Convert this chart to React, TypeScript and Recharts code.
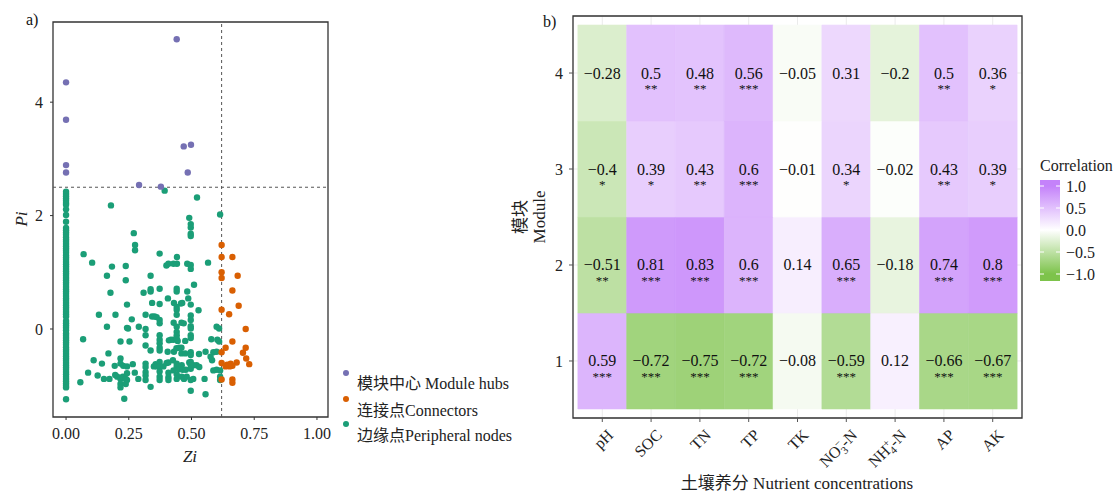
import React from "react";
import {
  ScatterChart,
  Scatter,
  XAxis,
  YAxis,
  ReferenceLine,
  ReferenceArea,
  CartesianGrid,
} from "recharts";

const SERIF = '"Liberation Serif", "Noto Sans CJK SC", serif';

// ---- panel a: Zi-Pi plot ----
const hubs = [
  [0.441, 5.11], [0, 4.35], [0, 3.69], [0, 2.89], [0, 2.76],
  [0.469, 3.22], [0.498, 3.25], [0.485, 2.76], [0.291, 2.54], [0.378, 2.51],
];

const connectors = [
  [0.62, 1.48], [0.62, 1.27], [0.663, 1.27], [0.62, 1.0], [0.62, 0.9],
  [0.684, 0.94], [0.663, 0.68], [0.688, 0.41], [0.62, 0.34], [0.65, 0.26],
  [0.716, 0.0], [0.663, -0.22], [0.636, -0.33], [0.716, -0.33], [0.62, -0.41],
  [0.705, -0.42], [0.718, -0.52], [0.73, -0.62], [0.68, -0.59], [0.62, -0.6],
  [0.642, -0.63], [0.656, -0.61], [0.663, -0.65], [0.652, -0.66], [0.636, -0.66],
  [0.62, -0.89], [0.663, -0.89], [0.663, -0.95],
];

// peripheral nodes with Zi = 0 (the dense column)
const peripheralZeroPi = [
  2.42, 2.38, 2.34, 2.3, 2.26, 2.22, 2.19, 2.11, 2.01, 1.89, 1.78, 1.74, 1.7,
  1.66, 1.62, 1.58, 1.54, 1.5, 1.46, 1.42, 1.38, 1.34, 1.3, 1.26, 1.22, 1.18,
  1.14, 1.1, 1.06, 1.02, 0.98, 0.94, 0.9, 0.86, 0.82, 0.78, 0.74, 0.7, 0.66,
  0.62, 0.58, 0.54, 0.5, 0.46, 0.42, 0.38, 0.34, 0.3, 0.26, 0.22, 0.14, 0.1,
  0.06, 0.02, -0.02, -0.08, -0.12, -0.16, -0.2, -0.24, -0.28, -0.32, -0.36,
  -0.4, -0.44, -0.48, -0.52, -0.56, -0.6, -0.64, -0.68, -0.72, -0.76, -0.8,
  -0.84, -0.88, -0.92, -0.96, -1.0, -1.03, -1.24,
];

const peripheral = [
  [0.393, 2.44], [0.522, 2.32], [0.179, 2.18], [0.614, 2.02], [0.491, 1.96],
  [0.497, 1.85], [0.497, 1.79], [0.497, 1.68], [0.497, 1.64], [0.27, 1.69],
  [0.275, 1.48], [0.275, 1.39], [0.07, 1.32], [0.373, 1.33], [0.442, 1.27],
  [0.104, 1.17], [0.566, 1.17], [0.4, 1.12], [0.408, 1.15], [0.428, 1.15],
  [0.442, 1.15], [0.483, 1.15], [0.497, 1.13], [0.497, 1.06], [0.183, 1.1],
  [0.238, 1.11], [0.163, 0.94], [0.337, 0.94], [0.238, 0.86], [0.51, 0.78],
  [0.337, 0.7], [0.337, 0.66], [0.373, 0.71], [0.441, 0.71], [0.441, 0.66],
  [0.483, 0.66], [0.309, 0.64], [0.177, 0.64], [0.406, 0.54], [0.487, 0.54],
  [0.343, 0.46], [0.373, 0.44], [0.43, 0.46], [0.458, 0.45], [0.463, 0.46],
  [0.497, 0.43], [0.243, 0.43], [0.441, 0.39], [0.441, 0.34], [0.441, 0.25],
  [0.528, 0.33], [0.131, 0.25], [0.197, 0.25], [0.317, 0.25], [0.343, 0.22],
  [0.353, 0.22], [0.361, 0.21], [0.497, 0.24], [0.497, 0.16], [0.497, 0.05],
  [0.497, 0.01], [0.262, 0.17], [0.373, 0.16], [0.373, 0.1], [0.429, 0.11],
  [0.46, 0.11], [0.469, 0.1], [0.441, 0.04], [0.441, -0.05], [0.441, -0.11],
  [0.163, 0.04], [0.243, 0.02], [0.247, 0.01], [0.29, 0.04], [0.317, 0],
  [0.317, -0.11], [0.6, 0.04], [0.61, 0.01], [0.068, -0.18], [0.217, -0.22],
  [0.253, -0.22], [0.373, -0.11], [0.373, -0.19], [0.373, -0.25], [0.41, -0.2],
  [0.418, -0.19], [0.428, -0.19], [0.441, -0.17], [0.445, -0.21], [0.497, -0.11],
  [0.497, -0.16], [0.475, -0.21], [0.579, -0.18], [0.603, -0.19], [0.61, -0.22],
  [0.317, -0.29], [0.337, -0.38], [0.373, -0.33], [0.373, -0.38], [0.405, -0.4],
  [0.43, -0.4], [0.44, -0.34], [0.45, -0.33], [0.46, -0.33], [0.46, -0.43],
  [0.475, -0.43], [0.497, -0.41], [0.497, -0.46], [0.53, -0.44], [0.556, -0.4],
  [0.587, -0.41], [0.6, -0.4], [0.169, -0.43], [0.217, -0.52], [0.11, -0.55],
  [0.143, -0.61], [0.194, -0.65], [0.217, -0.61], [0.228, -0.65], [0.243, -0.66],
  [0.266, -0.62], [0.317, -0.61], [0.317, -0.67], [0.317, -0.76], [0.317, -0.82],
  [0.317, -0.9], [0.35, -0.66], [0.357, -0.62], [0.361, -0.66], [0.373, -0.58],
  [0.373, -0.66], [0.373, -0.75], [0.373, -0.84], [0.373, -0.9], [0.388, -0.66],
  [0.401, -0.6], [0.408, -0.59], [0.426, -0.55], [0.441, -0.61], [0.441, -0.66],
  [0.449, -0.71], [0.461, -0.64], [0.465, -0.72], [0.477, -0.72], [0.491, -0.59],
  [0.497, -0.58], [0.497, -0.64], [0.497, -0.7], [0.507, -0.64], [0.52, -0.64],
  [0.531, -0.67], [0.582, -0.55], [0.576, -0.49], [0.587, -0.73], [0.6, -0.72],
  [0.088, -0.77], [0.126, -0.82], [0.151, -0.88], [0.173, -0.88], [0.196, -0.81],
  [0.204, -0.84], [0.217, -0.88], [0.226, -0.84], [0.238, -0.88], [0.243, -0.78],
  [0.243, -0.9], [0.274, -0.77], [0.288, -0.88], [0.217, -0.97], [0.238, -0.97],
  [0.217, -1.03], [0.337, -1.02], [0.408, -0.77], [0.408, -0.85], [0.408, -0.9],
  [0.428, -0.73], [0.441, -0.8], [0.441, -0.88], [0.461, -0.84], [0.47, -0.88],
  [0.481, -0.84], [0.497, -0.9], [0.507, -0.88], [0.497, -1.09], [0.556, -1.15],
  [0.057, -0.94], [0.232, -1.23], [0.552, -0.88], [0.614, -0.73], [0.614, -0.84],
  [0.614, -0.9],
];

const ziThreshold = 0.62;
const piThreshold = 2.5;
const ziTicks = [0, 0.25, 0.5, 0.75, 1];
const piTicks = [0, 2, 4];
const ziDomain = [-0.052, 1.044];
const piDomain = [-1.552, 5.414];

const roleColors = { hub: "#7570B3", connector: "#D95F02", peripheral: "#1B9E77" };

// ---- panel b: correlation heatmap ----
const nutrients = ["pH", "SOC", "TN", "TP", "TK", "NO3-N", "NH4-N", "AP", "AK"];
const modules = [1, 2, 3, 4];

const module1R = [0.59, -0.72, -0.75, -0.72, -0.08, -0.59, 0.12, -0.66, -0.67];
const module2R = [-0.51, 0.81, 0.83, 0.6, 0.14, 0.65, -0.18, 0.74, 0.8];
const module3R = [-0.4, 0.39, 0.43, 0.6, -0.01, 0.34, -0.02, 0.43, 0.39];
const module4R = [-0.28, 0.5, 0.48, 0.56, -0.05, 0.31, -0.2, 0.5, 0.36];

const module1Sig = ["***", "***", "***", "***", "", "***", "", "***", "***"];
const module2Sig = ["**", "***", "***", "***", "", "***", "", "***", "***"];
const module3Sig = ["*", "*", "**", "***", "", "*", "", "**", "*"];
const module4Sig = ["", "**", "**", "***", "", "", "", "**", "*"];

const legendTicks = [1.0, 0.5, 0.0, -0.5, -1.0];

const moduleR = [module1R, module2R, module3R, module4R];
const moduleSig = [module1Sig, module2Sig, module3Sig, module4Sig];

const cells = modules.flatMap((m, i) =>
  nutrients.map((n, j) => ({ x: j + 1, y: m, r: moduleR[i][j], sig: moduleSig[i][j] }))
);

const ionLabels: Record<string, string[]> = {
  "NO3-N": ["NO", "3", "\u2212", "-N"],
  "NH4-N": ["NH", "4", "+", "-N"],
};

const PURPLE = [196, 130, 250];
const GREEN = [125, 195, 75];

function corrColor(r: number) {
  const end = r >= 0 ? PURPLE : GREEN;
  const t = Math.min(1, Math.abs(r));
  const c = end.map((v) => Math.round(255 * (1 - t) + v * t));
  return `rgb(${c[0]},${c[1]},${c[2]})`;
}

const fmt = (v: number) => (v < 0 ? "\u2212" + Math.abs(v) : String(v));

const toPts = (pairs: number[][]) => pairs.map(([zi, pi]) => ({ zi, pi }));

const dot = (color: string) => (props: any) =>
  <circle cx={props.cx} cy={props.cy} r={3.2} fill={color} />;

function CellText(props: any) {
  const { cx, cy, payload } = props;
  return (
    <g>
      <text x={cx} y={cy} textAnchor="middle" dominantBaseline="central" fontSize={16} fontFamily={SERIF} fill="#111">
        {fmt(payload.r)}
      </text>
      {payload.sig ? (
        <text x={cx} y={cy + 20} textAnchor="middle" fontSize={13} fontFamily={SERIF} fill="#111">
          {payload.sig}
        </text>
      ) : null}
    </g>
  );
}

function NutrientTick(props: any) {
  const { x, y, payload } = props;
  const name = nutrients[payload.value - 1];
  const ax = x + 12;
  const ay = y + 12;
  const ion = ionLabels[name];
  return (
    <text
      x={ax}
      y={ay}
      transform={`rotate(-45 ${ax} ${ay})`}
      textAnchor="end"
      fontSize={16}
      fontFamily={SERIF}
      fill="#222"
    >
      {ion ? (
        <>
          <tspan>{ion[0]}</tspan>
          <tspan dy={4} fontSize={11}>{ion[1]}</tspan>
          <tspan dx={-6} dy={-10} fontSize={11}>{ion[2]}</tspan>
          <tspan dy={6}>{ion[3]}</tspan>
        </>
      ) : (
        name
      )}
    </text>
  );
}

const tickStyle = { fill: "#222", fontSize: 16, fontFamily: SERIF };

export default function App() {
  return (
    <div style={{ position: "relative", width: 1120, height: 494, background: "#fff", fontFamily: SERIF }}>
      <style>{`body{margin:0}`}</style>

      <div style={{ position: "absolute", left: 0, top: 0 }}>
        <ScatterChart width={340} height={494} margin={{ top: 22, right: 12, bottom: 0, left: 0 }}>
          <XAxis
            type="number"
            dataKey="zi"
            domain={ziDomain}
            allowDataOverflow
            ticks={ziTicks}
            interval={0}
            tickFormatter={(v) => v.toFixed(2)}
            height={77}
            tickSize={3}
            tickMargin={8}
            axisLine={false}
            tickLine={{ stroke: "#333" }}
            tick={tickStyle}
          />
          <YAxis
            type="number"
            dataKey="pi"
            domain={piDomain}
            allowDataOverflow
            ticks={piTicks}
            interval={0}
            width={53}
            tickSize={3}
            tickMargin={7}
            axisLine={false}
            tickLine={{ stroke: "#333" }}
            tick={tickStyle}
          />
          <Scatter data={toPts(peripheralZeroPi.map((p) => [0, p]))} shape={dot(roleColors.peripheral)} isAnimationActive={false} />
          <Scatter data={toPts(peripheral)} shape={dot(roleColors.peripheral)} isAnimationActive={false} />
          <Scatter data={toPts(connectors)} shape={dot(roleColors.connector)} isAnimationActive={false} />
          <Scatter data={toPts(hubs)} shape={dot(roleColors.hub)} isAnimationActive={false} />
          <ReferenceLine x={ziThreshold} stroke="#555" strokeDasharray="3 3" />
          <ReferenceLine y={piThreshold} stroke="#555" strokeDasharray="3 3" />
          <ReferenceArea
            x1={ziDomain[0]}
            x2={ziDomain[1]}
            y1={piDomain[0]}
            y2={piDomain[1]}
            fill="none"
            stroke="#333"
            strokeWidth={1.3}
            ifOverflow="visible"
          />
        </ScatterChart>
      </div>

      <div style={{ position: "absolute", left: 500, top: 0 }}>
        <ScatterChart width={540} height={494} margin={{ top: 16, right: 18, bottom: 0, left: 0 }}>
          <CartesianGrid stroke="#ebebeb" />
          <XAxis
            type="number"
            dataKey="x"
            domain={[0.4, 9.6]}
            allowDataOverflow
            ticks={nutrients.map((_, i) => i + 1)}
            interval={0}
            height={76}
            tickSize={4}
            tickMargin={2}
            axisLine={false}
            tickLine={{ stroke: "#555" }}
            tick={<NutrientTick />}
          />
          <YAxis
            type="number"
            dataKey="y"
            domain={[0.406, 4.594]}
            allowDataOverflow
            ticks={modules}
            interval={0}
            width={73}
            tickSize={4}
            tickMargin={6}
            axisLine={false}
            tickLine={{ stroke: "#555" }}
            tick={tickStyle}
          />
          {cells.map((c) => (
            <ReferenceArea
              key={`${c.x}-${c.y}`}
              x1={c.x - 0.5}
              x2={c.x + 0.5}
              y1={c.y - 0.5}
              y2={c.y + 0.5}
              fill={corrColor(c.r)}
              fillOpacity={1}
              stroke={corrColor(c.r)}
              strokeWidth={0.6}
            />
          ))}
          <ReferenceArea
            x1={0.4}
            x2={9.6}
            y1={0.406}
            y2={4.594}
            fill="none"
            stroke="#333"
            strokeWidth={1.3}
            ifOverflow="visible"
          />
          <Scatter data={cells} shape={<CellText />} isAnimationActive={false} />
        </ScatterChart>
      </div>

      <svg
        width={1120}
        height={494}
        style={{ position: "absolute", left: 0, top: 0, pointerEvents: "none" }}
        fontFamily={SERIF}
      >
        <defs>
          <linearGradient id="corrGrad" x1="0" y1="0" x2="0" y2="1">
            <stop offset="0" stopColor={corrColor(1)} />
            <stop offset="0.06" stopColor={corrColor(1)} />
            <stop offset="0.495" stopColor="#ffffff" />
            <stop offset="0.93" stopColor={corrColor(-1)} />
            <stop offset="1" stopColor={corrColor(-1)} />
          </linearGradient>
        </defs>
        <text x={26} y={25} fontSize={16} fill="#111">a)</text>
        <text x={543} y={27} fontSize={16} fill="#111">b)</text>

        <text x={27} y={219} fontSize={17} fontStyle="italic" textAnchor="middle" transform="rotate(-90 27 219)" fill="#222">Pi</text>
        <text x={190} y={462} fontSize={17} fontStyle="italic" textAnchor="middle" fill="#222">Zi</text>

        <circle cx={346} cy={373} r={3} fill={roleColors.hub} />
        <circle cx={346} cy={399} r={3} fill={roleColors.connector} />
        <circle cx={346} cy={424} r={3} fill={roleColors.peripheral} />
        <text x={357} y={389} fontSize={16} fill="#222">模块中心 Module hubs</text>
        <text x={357} y={416} fontSize={16} fill="#222">连接点Connectors</text>
        <text x={357} y={441} fontSize={16} fill="#222">边缘点Peripheral nodes</text>

        <text x={526} y={217} fontSize={17} textAnchor="middle" transform="rotate(-90 526 217)" fill="#222">模块</text>
        <text x={545} y={217} fontSize={17} textAnchor="middle" transform="rotate(-90 545 217)" fill="#222">Module</text>
        <text x={797} y={489} fontSize={17} textAnchor="middle" fill="#222">土壤养分  Nutrient concentrations</text>

        <text x={1040} y={171} fontSize={16} fill="#222">Correlation</text>
        <rect x={1040} y={180} width={20} height={101} fill="url(#corrGrad)" />
        {legendTicks.map((t) => {
          const yy = 186 + (1 - t) * 44;
          return (
            <g key={t}>
              <line x1={1040} x2={1044} y1={yy} y2={yy} stroke="#fff" />
              <line x1={1056} x2={1060} y1={yy} y2={yy} stroke="#fff" />
              <text x={1066} y={yy + 5.5} fontSize={16} fill="#222">
                {t < 0 ? "\u2212" + Math.abs(t).toFixed(1) : t.toFixed(1)}
              </text>
            </g>
          );
        })}
      </svg>
    </div>
  );
}
